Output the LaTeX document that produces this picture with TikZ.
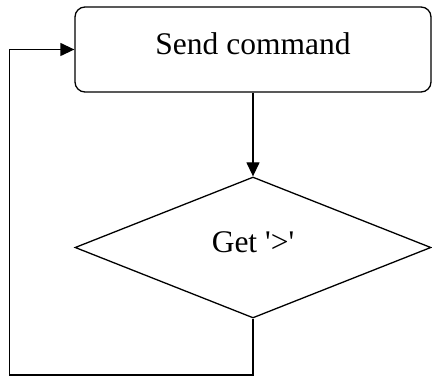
\documentclass[tikz,border=0pt]{standalone}
\usepackage{fontspec}
\setmainfont{Liberation Serif}
\usetikzlibrary{shapes.geometric,arrows.meta,positioning}

\tikzset{
  flowline/.style={line width=1.3pt, -{Triangle[length=14pt,width=13pt]}},
  flowtext/.style={font=\fontsize{31.5}{36}\selectfont, text height=21.5pt, text depth=10.5pt, inner sep=0pt},
}

\begin{document}
\begin{tikzpicture}[x=1pt,y=1pt]
\useasboundingbox (0,0) rectangle (432,-379);

% Step: send the command
\node[draw, line width=1.3pt, rounded corners=10pt, minimum width=356pt, minimum height=85pt, flowtext] (send) at (253,-49.5) {Send command};

% Check: wait for the prompt
\node[draw, diamond, line width=1.3pt, minimum width=356pt, minimum height=141pt, flowtext] (ask) at (253,-247.5) {Get \textquotesingle>\textquotesingle};

% Arrow down
\draw[flowline] (send) -- (ask);

% Loop back to the start
\coordinate (loopcorner) at (9.5,-375);
\draw[flowline] (ask.south) |- (loopcorner) |- (send.west);

\end{tikzpicture}
\end{document}
